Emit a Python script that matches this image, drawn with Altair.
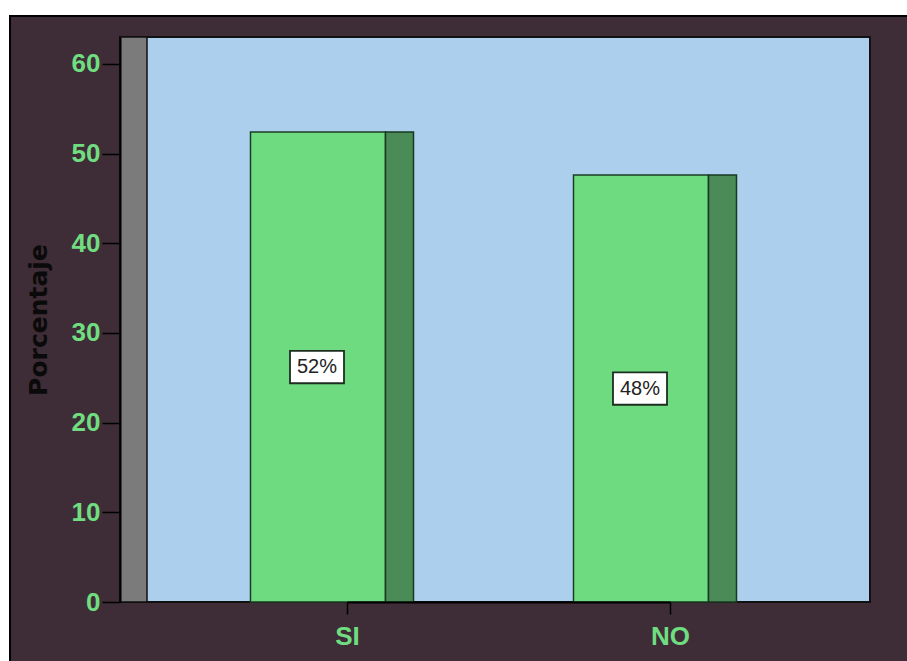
import altair as alt
import pandas as pd

# Survey answers and their share of respondents (%)
categories = ["SI", "NO"]
percentages = [52.4, 47.6]
y_ticks = [0, 10, 20, 30, 40, 50, 60]

df = pd.DataFrame({"respuesta": categories, "pct": percentages})

W, H = 750, 565
GREEN_TXT = "#6fdd80"
LABEL_FONT = "Liberation Sans Narrow, Arial Narrow, Liberation Sans, sans-serif"

base = alt.Chart(df).transform_calculate(
    mid="datum.pct / 2",
    etiqueta="format(datum.pct, '.0f') + '%'",
)

x_enc = alt.X(
    "respuesta:N",
    sort=categories,
    scale=alt.Scale(type="point", range=[227, 550], padding=0),
    axis=alt.Axis(
        title=None,
        labelAngle=0,
        tickSize=12,
        tickColor="black",
        tickWidth=1.5,
        domainColor="black",
        domainWidth=2,
        labelFont=LABEL_FONT,
        labelFontSize=26,
        labelFontWeight="bold",
        labelColor=GREEN_TXT,
        labelPadding=9,
        zindex=1,
    ),
)

y_scale = alt.Scale(domain=[0, 63], nice=False, zero=True)
y_enc = alt.Y(
    "pct:Q",
    scale=y_scale,
    axis=alt.Axis(
        values=y_ticks,
        grid=False,
        tickSize=18,
        tickColor="black",
        tickWidth=1.5,
        domainColor="black",
        domainWidth=2,
        labelFont=LABEL_FONT,
        labelFontSize=26,
        labelFontWeight="bold",
        labelColor=GREEN_TXT,
        labelPadding=2,
        title="Porcentaje",
        titleFont="DejaVu Sans",
        titleFontSize=25,
        titleFontWeight="bold",
        titleColor="#0a0a0a",
        titlePadding=20,
        zindex=1,
    ),
)

one = alt.Data(values=[{}])

def deco(x, x2, y, y2, fill, stroke=None, sw=0):
    kw = dict(fill=fill)
    if stroke:
        kw.update(stroke=stroke, strokeWidth=sw)
    return alt.Chart(one).mark_rect(**kw).encode(
        x=alt.value(x), x2=alt.value(x2), y=alt.value(y), y2=alt.value(y2)
    )

# Frame around the figure and the grey side wall of the plot box
white_top = deco(-120, 800, -37, -22, "white")
white_left = deco(-120, -111, -37, 640, "white")
black_top = deco(-111, 800, -22, -20, "black")
black_left = deco(-111, -109, -22, 640, "black")
wall = deco(0, 27, 0, H, "#7b7b7b", "#111111", 1.5)

front = base.mark_bar(
    size=135, xOffset=-29, color="#6fdb80", stroke="#1b3d23", strokeWidth=1.5
).encode(x=x_enc, y=y_enc)

side = base.mark_bar(
    size=28, xOffset=52.5, color="#4b8b57", stroke="#173a20", strokeWidth=1.5
).encode(x=x_enc, y=alt.Y("pct:Q", scale=y_scale))

box = base.mark_point(
    shape="M-1,-0.6H1V0.6H-1Z",
    size=2916,
    filled=True,
    fill="white",
    stroke="#1c2e1f",
    strokeWidth=1.8,
    opacity=1,
    xOffset=-30,
).encode(x=x_enc, y=alt.Y("mid:Q", scale=y_scale))

text = base.mark_text(
    font="Liberation Sans, Arial, sans-serif",
    fontSize=20,
    color="#222222",
    xOffset=-30,
    baseline="middle",
    align="center",
).encode(x=x_enc, y=alt.Y("mid:Q", scale=y_scale), text="etiqueta:N")

chart = (
    alt.layer(white_top, white_left, black_top, black_left, wall, front, side, box, text)
    .properties(
        width=W,
        height=H,
        background="#3e2d36",
        padding={"left": 120, "top": 37, "right": 37, "bottom": 59},
        autosize=alt.AutoSizeParams(type="none"),
    )
    .configure_view(fill="#abcfec", stroke="#111111", strokeWidth=2)
)

chart.save("out.html", embed_options={"renderer": "svg", "actions": False})
